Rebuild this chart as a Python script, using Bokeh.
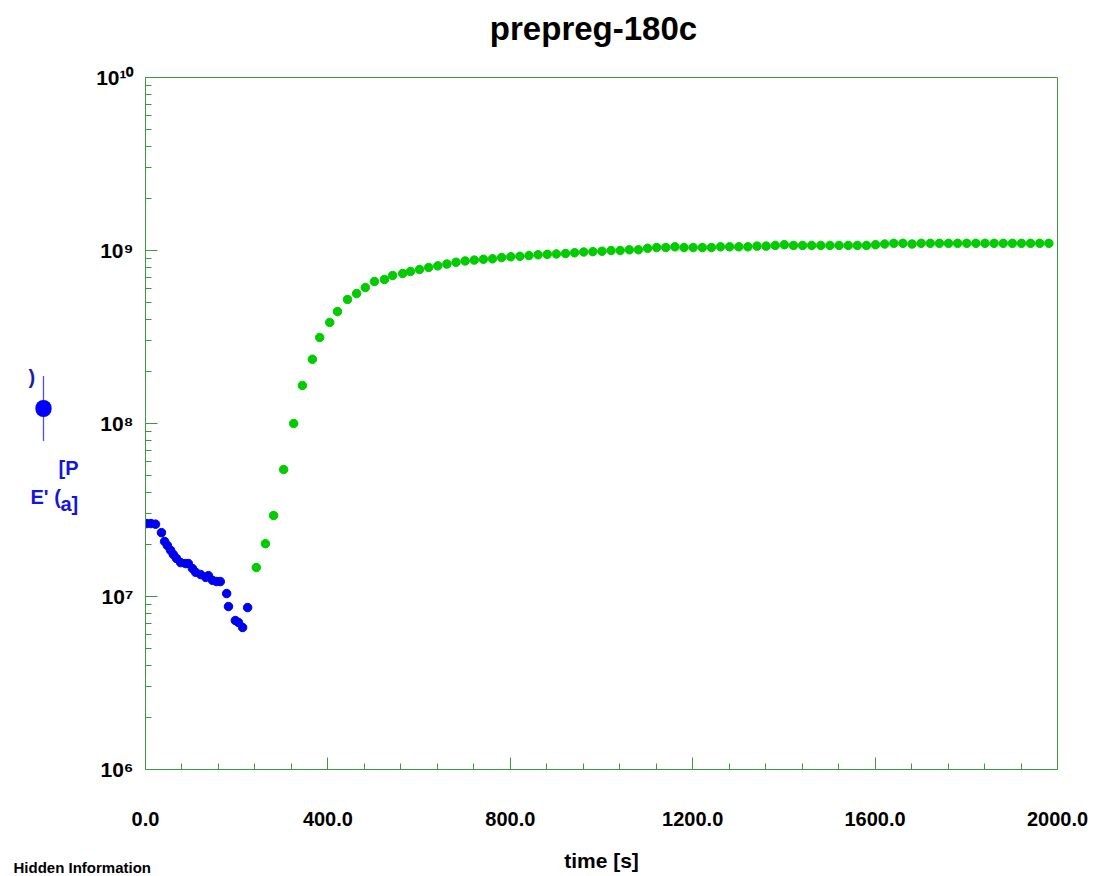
from bokeh.plotting import figure
from bokeh.models import (FixedTicker, NumeralTickFormatter, CustomJSTickFormatter,
                          Label, Range1d)
from bokeh.embed import file_html
from bokeh.resources import INLINE

# ---------------- data ----------------
title_text = "prepreg-180c"
x_axis_label = "time [s]"
footer_text = "Hidden Information"
y_label_parts = ["[P", "E' (", "a]"]
y_label_close = ")"

x_ticks = [0, 400, 800, 1200, 1600, 2000]
y_ticks = [1e6, 1e7, 1e8, 1e9, 1e10]

blue_t = [3, 12, 22, 35, 42, 48, 55, 61, 68, 77, 88, 94, 103, 110, 121, 132,
          138, 147, 156, 164, 178, 182, 197, 204, 213, 224]
blue_E = [2.64e7, 2.64e7, 2.62e7, 2.34e7, 2.08e7, 1.97e7, 1.85e7, 1.75e7,
          1.66e7, 1.57e7, 1.55e7, 1.55e7, 1.45e7, 1.38e7, 1.34e7, 1.29e7,
          1.32e7, 1.24e7, 1.22e7, 1.22e7, 1.04e7, 8.75e6, 7.26e6, 7.08e6,
          6.62e6, 8.63e6]

green_t = [243, 263, 281, 303, 325, 344, 366, 382, 404, 421, 443, 463, 482,
           502, 524, 542, 564, 581, 601, 621, 641, 661, 681, 701, 721, 741,
           761, 781, 801, 821, 841, 861, 881, 901, 921, 941, 961, 981, 1001,
           1021, 1041, 1061, 1081, 1101, 1121, 1141, 1161, 1181, 1201, 1221,
           1241, 1261, 1281, 1301, 1321, 1341, 1361, 1381, 1401, 1421, 1441,
           1461, 1481, 1501, 1521, 1541, 1561, 1581, 1601, 1621, 1641, 1661,
           1681, 1701, 1721, 1741, 1761, 1781, 1801, 1821, 1841, 1861, 1881,
           1901, 1921, 1941, 1961, 1981]
green_E = [1.47e7, 2.02e7, 2.94e7, 5.42e7, 1.0e8, 1.66e8, 2.35e8, 3.14e8,
           3.84e8, 4.44e8, 5.21e8, 5.64e8, 6.11e8, 6.62e8, 6.80e8, 7.17e8,
           7.36e8, 7.56e8, 7.77e8, 7.98e8, 8.15e8, 8.35e8, 8.55e8, 8.70e8,
           8.80e8, 8.90e8, 8.95e8, 9.10e8, 9.20e8, 9.25e8, 9.35e8, 9.45e8,
           9.50e8, 9.55e8, 9.60e8, 9.70e8, 9.80e8, 9.85e8, 9.90e8, 1.00e9,
           1.00e9, 1.01e9, 1.01e9, 1.03e9, 1.04e9, 1.04e9, 1.05e9, 1.04e9,
           1.04e9, 1.04e9, 1.04e9, 1.05e9, 1.05e9, 1.05e9, 1.05e9, 1.06e9,
           1.06e9, 1.07e9, 1.08e9, 1.07e9, 1.07e9, 1.07e9, 1.07e9, 1.07e9,
           1.07e9, 1.07e9, 1.07e9, 1.07e9, 1.08e9, 1.09e9, 1.10e9, 1.10e9,
           1.09e9, 1.10e9, 1.10e9, 1.10e9, 1.10e9, 1.10e9, 1.10e9, 1.10e9,
           1.10e9, 1.10e9, 1.10e9, 1.10e9, 1.10e9, 1.10e9, 1.10e9, 1.10e9]

# ---------------- styles / layout ----------------
GREEN_AX = "#3c9c3c"
FONT = "Liberation Sans"
BLUE_TXT = "#1414dc"

x_minor = [t for t in range(0, 2001, 80) if t % 400 != 0]
y_minor = [k * 10 ** d for d in range(6, 10) for k in range(2, 10)]

p = figure(width=1095, height=876, x_range=Range1d(0, 2000),
           y_range=Range1d(1e6, 1e10), y_axis_type="log",
           output_backend="svg", toolbar_location=None,
           min_border_left=145, min_border_right=38,
           min_border_top=77, min_border_bottom=107)
p.title = None

p.grid.visible = False
p.outline_line_color = GREEN_AX
p.outline_line_alpha = 1.0
p.background_fill_color = "white"
p.border_fill_color = "white"

for ax in (p.xaxis[0], p.yaxis[0]):
    ax.axis_line_color = GREEN_AX
    ax.major_tick_line_color = GREEN_AX
    ax.minor_tick_line_color = GREEN_AX
    ax.major_tick_in = 12
    ax.major_tick_out = 0
    ax.minor_tick_in = 6
    ax.minor_tick_out = 0
    ax.major_label_text_font = FONT
    ax.major_label_text_font_style = "bold"
    ax.major_label_text_color = "black"

xa = p.xaxis[0]
xa.ticker = FixedTicker(ticks=x_ticks, minor_ticks=x_minor)
xa.formatter = NumeralTickFormatter(format="0.0")
xa.major_label_text_font_size = "20px"
xa.major_label_standoff = 42
xa.axis_label = x_axis_label
xa.axis_label_text_font = FONT
xa.axis_label_text_font_size = "21px"
xa.axis_label_text_font_style = "bold"
xa.axis_label_text_color = "black"
xa.axis_label_standoff = 20

ya = p.yaxis[0]
ya.ticker = FixedTicker(ticks=y_ticks, minor_ticks=y_minor)
ya.formatter = CustomJSTickFormatter(code="""
const sup = {"0":"\u2070","1":"\u00b9","2":"\u00b2","3":"\u00b3","4":"\u2074",
             "5":"\u2075","6":"\u2076","7":"\u2077","8":"\u2078","9":"\u2079"};
const e = Math.round(Math.log10(tick));
return "10" + String(e).split("").map(c => sup[c]).join("");
""")
ya.major_label_text_font_size = "21px"
ya.major_label_standoff = 12

p.scatter(blue_t, blue_E, size=8.5, color="#0000f0", line_color="#0000f0")
p.scatter(green_t, green_E, size=8.5, color="#00cc00", line_color="#00cc00")

# chart title (above panel, canvas pixel units)
p.add_layout(Label(x=593, y=28, x_units="canvas", y_units="canvas", text=title_text,
                   text_font=FONT, text_font_size="33px", text_font_style="bold",
                   text_color="black", text_align="center", text_baseline="alphabetic"), "above")

# scrambled y-axis label pieces (canvas pixel units, side panels)
label_pos = [(58, 467), (30, 496), (60, 503)]
for txt, (cx, cy) in zip(y_label_parts, label_pos):
    p.add_layout(Label(x=cx, y=cy, x_units="canvas", y_units="canvas", text=txt,
                       text_font=FONT, text_font_size="20px", text_font_style="bold",
                       text_color=BLUE_TXT, text_align="left", text_baseline="middle"), "left")

p.add_layout(Label(x=28, y=376, x_units="canvas", y_units="canvas", text=y_label_close,
                   text_font=FONT, text_font_size="20px", text_font_style="bold",
                   text_color="#1c1ca8", text_align="left", text_baseline="middle"), "right")

# legend marker: thin vertical line + filled dot
p.add_layout(Label(x=43, y=408, x_units="canvas", y_units="canvas", text=" ",
                   text_font_size="1px", text_align="center", text_baseline="middle",
                   padding=dict(left=0, right=1, top=32, bottom=32),
                   background_fill_color="#4a4aff", background_fill_alpha=1.0), "right")
p.add_layout(Label(x=43, y=408, x_units="canvas", y_units="canvas", text=" ",
                   text_font_size="1px", text_align="center", text_baseline="middle",
                   padding=8, border_radius=8,
                   background_fill_color="#0000ff", background_fill_alpha=1.0), "right")

p.add_layout(Label(x=13, y=875, x_units="canvas", y_units="canvas", text=footer_text,
                   text_font=FONT, text_font_size="15px", text_font_style="bold",
                   text_color="black", text_align="left", text_baseline="bottom"), "above")

open("out.html", "w").write(file_html(p, INLINE))
